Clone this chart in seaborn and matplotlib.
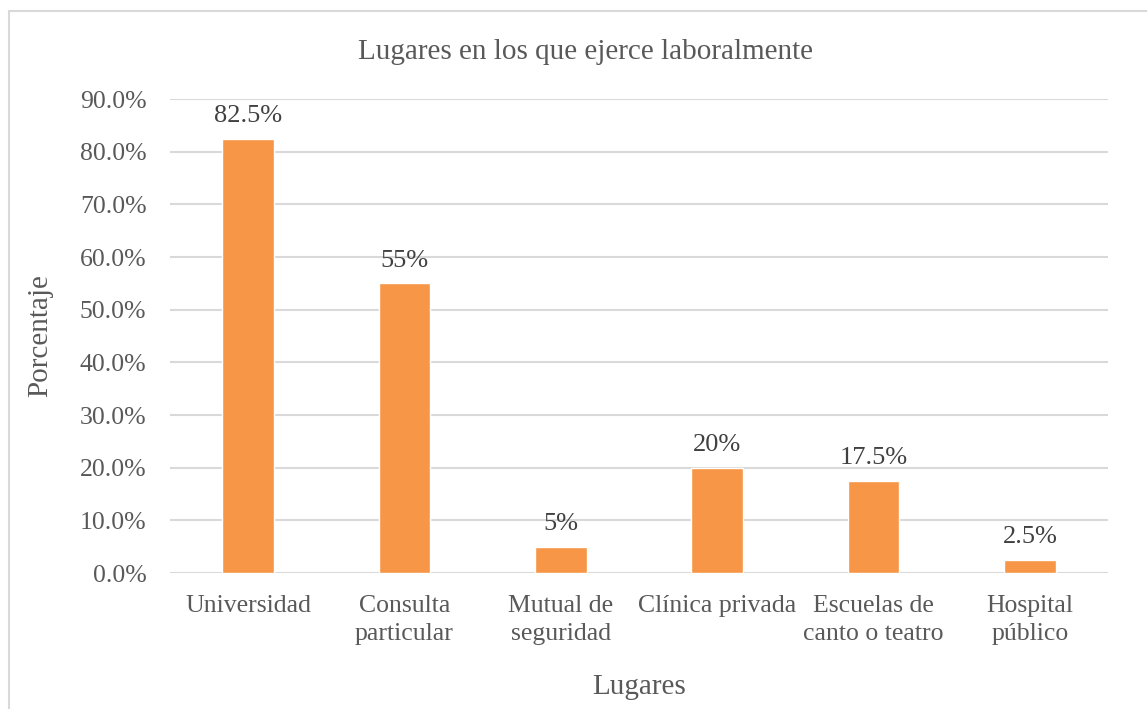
import matplotlib
matplotlib.use("Agg")
import matplotlib.pyplot as plt
import seaborn as sns
import pandas as pd
from matplotlib.patches import Rectangle
from matplotlib.ticker import FuncFormatter

lugares = ["Universidad", "Consulta\nparticular", "Mutual de\nseguridad",
           "Clínica privada", "Escuelas de\ncanto o teatro", "Hospital\npúblico"]
porcentajes = [82.5, 55, 5, 20, 17.5, 2.5]
etiquetas = ["82.5%", "55%", "5%", "20%", "17.5%", "2.5%"]
yticks = [0, 10, 20, 30, 40, 50, 60, 70, 80, 90]

df = pd.DataFrame({"Lugares": lugares, "Porcentaje": porcentajes})

sns.set_theme(style="white")
plt.rcParams["font.family"] = ["Liberation Serif", "DejaVu Serif"]

fig = plt.figure(figsize=(11.47, 7.09), dpi=100)
ax = fig.add_axes([170 / 1147, 1 - 573 / 709, (1108 - 170) / 1147, (573 - 99) / 709])

sns.barplot(data=df, x="Lugares", y="Porcentaje", color="#F79646", width=0.33,
            saturation=1, ax=ax, zorder=3)

ax.set_ylim(0, 90)
ax.set_yticks(yticks)
ax.yaxis.set_major_formatter(FuncFormatter(lambda v, p: f"{v:.1f}%"))
ax.grid(axis="y", color="#D9D9D9", linewidth=1.5, zorder=0)
for s in ax.spines.values():
    s.set_visible(False)
ax.tick_params(axis="both", length=0, labelcolor="#595959")
ax.tick_params(axis="y", pad=17, labelsize=18.5)
ax.tick_params(axis="x", pad=16, labelsize=18.5)
for lab in ax.get_xticklabels():
    lab.set_linespacing(1.35)

for i, (v, t) in enumerate(zip(porcentajes, etiquetas)):
    ax.text(i, v + 2.2, t, ha="center", va="bottom", fontsize=19, color="#404040")

ax.set_xlabel("Lugares", fontsize=21, color="#595959", labelpad=21)
ax.set_ylabel("Porcentaje", fontsize=21, color="#595959", labelpad=19)
fig.text(586 / 1147, 1 - 52 / 709, "Lugares en los que ejerce laboralmente",
         ha="center", va="center", fontsize=21, color="#595959")

fig.patches.append(Rectangle((9 / 1147, -0.1), 1.2, 1 - 11 / 709 + 0.1,
                             transform=fig.transFigure, fill=False,
                             edgecolor="#D9D9D9", linewidth=1.5))

fig.savefig("out.png", dpi=100, facecolor="white")
